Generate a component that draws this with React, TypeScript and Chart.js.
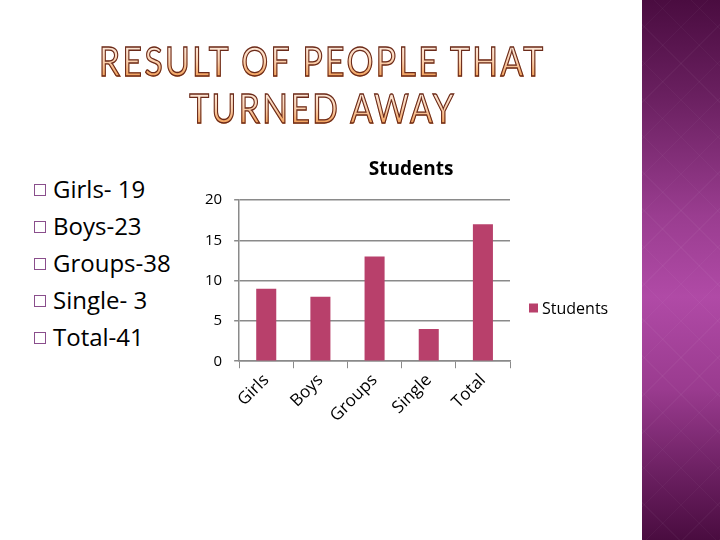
import React, { useEffect, useRef } from "react";
import { Chart, registerables } from "chart.js";

Chart.register(...registerables);

const categories = ["Girls", "Boys", "Groups", "Single", "Total"];
const studentValues = [9, 8, 13, 4, 17];
const seriesLabel = "Students";
const chartTitle = "Students";
const yMin = 0;
const yMax = 20;
const yStep = 5;
const bulletItems = ["Girls- 19", "Boys-23", "Groups-38", "Single- 3", "Total-41"];
const slideTitleLines = ["RESULT OF PEOPLE THAT", "TURNED AWAY"];

const BAR_COLOR = "#b8406b";
const GRID_COLOR = "#8a8a8a";
const FONT = '"Open Sans", "DejaVu Sans", sans-serif';

const decorPlugin = {
  id: "decor",
  afterDraw(chart: any) {
    const { ctx, chartArea } = chart;
    const ds = chart.data.datasets[0];
    ctx.save();
    ctx.fillStyle = "#000";
    ctx.font = `bold 19px ${FONT}`;
    ctx.textAlign = "center";
    ctx.textBaseline = "middle";
    ctx.fillText(chartTitle, chartArea.left + 172, chartArea.top - 30);
    const lx = chartArea.right + 19;
    const ly = chartArea.top + 108;
    ctx.fillStyle = ds.backgroundColor;
    ctx.fillRect(lx, ly - 4.5, 9, 9);
    ctx.fillStyle = "#000";
    ctx.font = `16px ${FONT}`;
    ctx.textAlign = "left";
    ctx.fillText(ds.label, lx + 13, ly + 1);
    ctx.restore();
  },
};

function ChartCanvas() {
  const ref = useRef<HTMLCanvasElement | null>(null);
  useEffect(() => {
    if (!ref.current) return;
    const chart = new Chart(ref.current, {
      type: "bar",
      data: {
        labels: categories,
        datasets: [
          {
            label: seriesLabel,
            data: studentValues,
            backgroundColor: BAR_COLOR,
            borderWidth: 0,
            barPercentage: 0.37,
            categoryPercentage: 1,
          },
        ],
      },
      options: {
        responsive: false,
        animation: false,
        layout: { padding: { left: 193, top: 200, right: 210, bottom: 112 } },
        plugins: {
          legend: { display: false },
          title: { display: false },
          tooltip: { enabled: false },
        },
        scales: {
          x: {
            offset: true,
            grid: {
              display: true,
              drawOnChartArea: false,
              drawTicks: true,
              tickLength: 7,
              color: GRID_COLOR,
              offset: true,
            },
            border: { color: GRID_COLOR, width: 1.5 },
            ticks: {
              color: "#000",
              font: { family: FONT, size: 17 },
              maxRotation: 45,
              minRotation: 45,
              padding: 2,
            },
          },
          y: {
            min: yMin,
            max: yMax,
            grid: { color: GRID_COLOR, lineWidth: 1.5, tickLength: 5 },
            border: { color: GRID_COLOR, width: 1.5 },
            ticks: {
              stepSize: yStep,
              color: "#000",
              font: { family: FONT, size: 15 },
              padding: 12,
            },
          },
        },
      },
      plugins: [decorPlugin],
    });
    return () => chart.destroy();
  }, []);
  return (
    <canvas
      ref={ref}
      width={720}
      height={540}
      style={{ position: "absolute", left: 0, top: 0, width: 720, height: 540 }}
    />
  );
}

export default function App() {
  return (
    <div
      style={{
        position: "absolute",
        left: 0,
        top: 0,
        width: 720,
        height: 540,
        background: "#ffffff",
        overflow: "hidden",
        fontFamily: FONT,
      }}
    >
      <div
        style={{
          position: "absolute",
          left: 642,
          top: 0,
          width: 78,
          height: 540,
          background:
            "linear-gradient(180deg, #4a0c40 0%, #6a2060 18%, #9a3d90 40%, #b04aa6 55%, #9a3b8f 72%, #6a1f60 88%, #4a0c40 100%)",
        }}
      >
        <div
          style={{
            position: "absolute",
            inset: 0,
            background:
              "repeating-linear-gradient(45deg, rgba(255,255,255,0.03) 0 1px, transparent 1px 26px), repeating-linear-gradient(-45deg, rgba(255,255,255,0.03) 0 1px, transparent 1px 26px)",
          }}
        />
      </div>
      {slideTitleLines.map((line, i) => (
        <div
          key={i}
          style={{
            position: "absolute",
            left: 0,
            width: 645,
            top: 36 + i * 47,
            textAlign: "center",
            lineHeight: "50px",
            height: 50,
          }}
        >
          <span
            style={{
              display: "inline-block",
              fontFamily: '"Lato", sans-serif',
              fontSize: 41,
              letterSpacing: 3,
              transform: "scaleX(0.82)",
              color: "transparent",
              background: "linear-gradient(180deg, #fde9da 20%, #fbd2b0 50%, #f19a4e 85%)",
              WebkitBackgroundClip: "text",
              backgroundClip: "text",
              WebkitTextStroke: "1.3px #6a2a1a",
            }}
          >
            {line}
          </span>
        </div>
      ))}
      {bulletItems.map((item, i) => (
        <div
          key={i}
          style={{
            position: "absolute",
            left: 34,
            top: 172 + i * 37.2,
            height: 32,
            display: "flex",
            alignItems: "center",
            whiteSpace: "nowrap",
          }}
        >
          <span
            style={{
              display: "inline-block",
              width: 10,
              height: 10,
              border: "1.5px solid #8a4e8c",
              marginRight: 7,
              marginTop: 3,
            }}
          />
          <span style={{ fontSize: 24, color: "#000" }}>{item}</span>
        </div>
      ))}
      <ChartCanvas />
    </div>
  );
}
